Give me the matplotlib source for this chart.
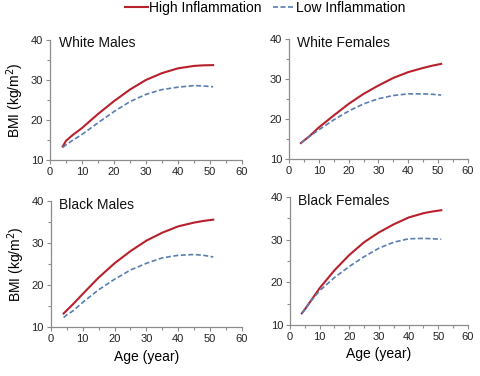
import matplotlib
matplotlib.use("Agg")
import matplotlib.pyplot as plt
from matplotlib.ticker import MultipleLocator

plt.rcParams['font.family'] = ['Liberation Sans', 'DejaVu Sans']

ages = [4, 5, 7, 10, 15, 20, 25, 30, 35, 40, 45, 48, 51]

titles = ["White Males", "White Females", "Black Males", "Black Females"]

wm_high = [13.4, 14.8, 16.2, 18.0, 21.5, 24.7, 27.6, 30.0, 31.7, 32.9, 33.5, 33.65, 33.7]
wm_low = [13.2, 13.8, 14.9, 16.4, 19.3, 22.1, 24.6, 26.4, 27.6, 28.2, 28.6, 28.5, 28.3]
wf_high = [14.0, 14.6, 15.8, 17.9, 20.9, 23.8, 26.3, 28.4, 30.3, 31.75, 32.8, 33.35, 33.8]
wf_low = [14.0, 14.6, 15.7, 17.3, 19.8, 22.0, 23.8, 25.1, 25.9, 26.3, 26.3, 26.2, 26.0]
bm_high = [13.25, 14.0, 15.5, 17.9, 21.8, 25.2, 28.1, 30.6, 32.5, 34.0, 34.9, 35.3, 35.6]
bm_low = [12.3, 12.9, 13.9, 15.9, 18.9, 21.4, 23.6, 25.2, 26.5, 27.1, 27.3, 27.1, 26.7]
bf_high = [12.7, 13.6, 15.6, 18.6, 22.8, 26.4, 29.4, 31.7, 33.6, 35.2, 36.2, 36.6, 36.9]
bf_low = [12.7, 13.6, 15.5, 18.0, 21.1, 23.7, 26.0, 28.0, 29.4, 30.2, 30.3, 30.2, 30.1]

high = [wm_high, wf_high, bm_high, bf_high]
low = [wm_low, wf_low, bm_low, bf_low]

red = "#B8202C"
blue = "#5A7DB0"
gray = "#8C8C8C"

fig = plt.figure(figsize=(4.8, 3.76), dpi=100)
positions = [
    [0.104, 0.574, 0.400, 0.320],
    [0.602, 0.577, 0.373, 0.319],
    [0.106, 0.130, 0.398, 0.335],
    [0.604, 0.136, 0.371, 0.340],
]

lines = []
for i, pos in enumerate(positions):
    ax = fig.add_axes(pos)
    l1, = ax.plot(ages, high[i], color=red, lw=1.5, label="High Inflammation")
    l2, = ax.plot(ages, low[i], color=blue, lw=1.2, ls=(0, (3, 1.5)), label="Low Inflammation")
    lines = [l1, l2]
    ax.set_xlim(0, 60)
    ax.set_ylim(10, 40)
    ax.xaxis.set_major_locator(MultipleLocator(10))
    ax.xaxis.set_minor_locator(MultipleLocator(5))
    ax.yaxis.set_major_locator(MultipleLocator(10))
    ax.yaxis.set_minor_locator(MultipleLocator(5))
    for s in ["top", "right"]:
        ax.spines[s].set_visible(False)
    for s in ["left", "bottom"]:
        ax.spines[s].set_color(gray)
        ax.spines[s].set_linewidth(0.9)
    ax.tick_params(which="major", length=3, width=0.8, color=gray, labelsize=8, pad=2, labelcolor="#222222")
    ax.tick_params(which="minor", length=2, width=0.8, color=gray)
    ax.text(0.045, 0.97, titles[i], transform=ax.transAxes, fontsize=10, va="center", ha="left", color="#111111")
    if i % 2 == 0:
        ax.set_ylabel("BMI (kg/m$^2$)", fontsize=10, labelpad=3)
    if i >= 2:
        ax.set_xlabel("Age (year)", fontsize=10, labelpad=4)

fig.legend(lines, [l.get_label() for l in lines], loc="center", bbox_to_anchor=(0.553, 0.978),
           ncol=2, frameon=False, fontsize=10, handlelength=1.6, handletextpad=0.1,
           columnspacing=0.8, borderaxespad=0)

fig.savefig("out.png", dpi=100)
